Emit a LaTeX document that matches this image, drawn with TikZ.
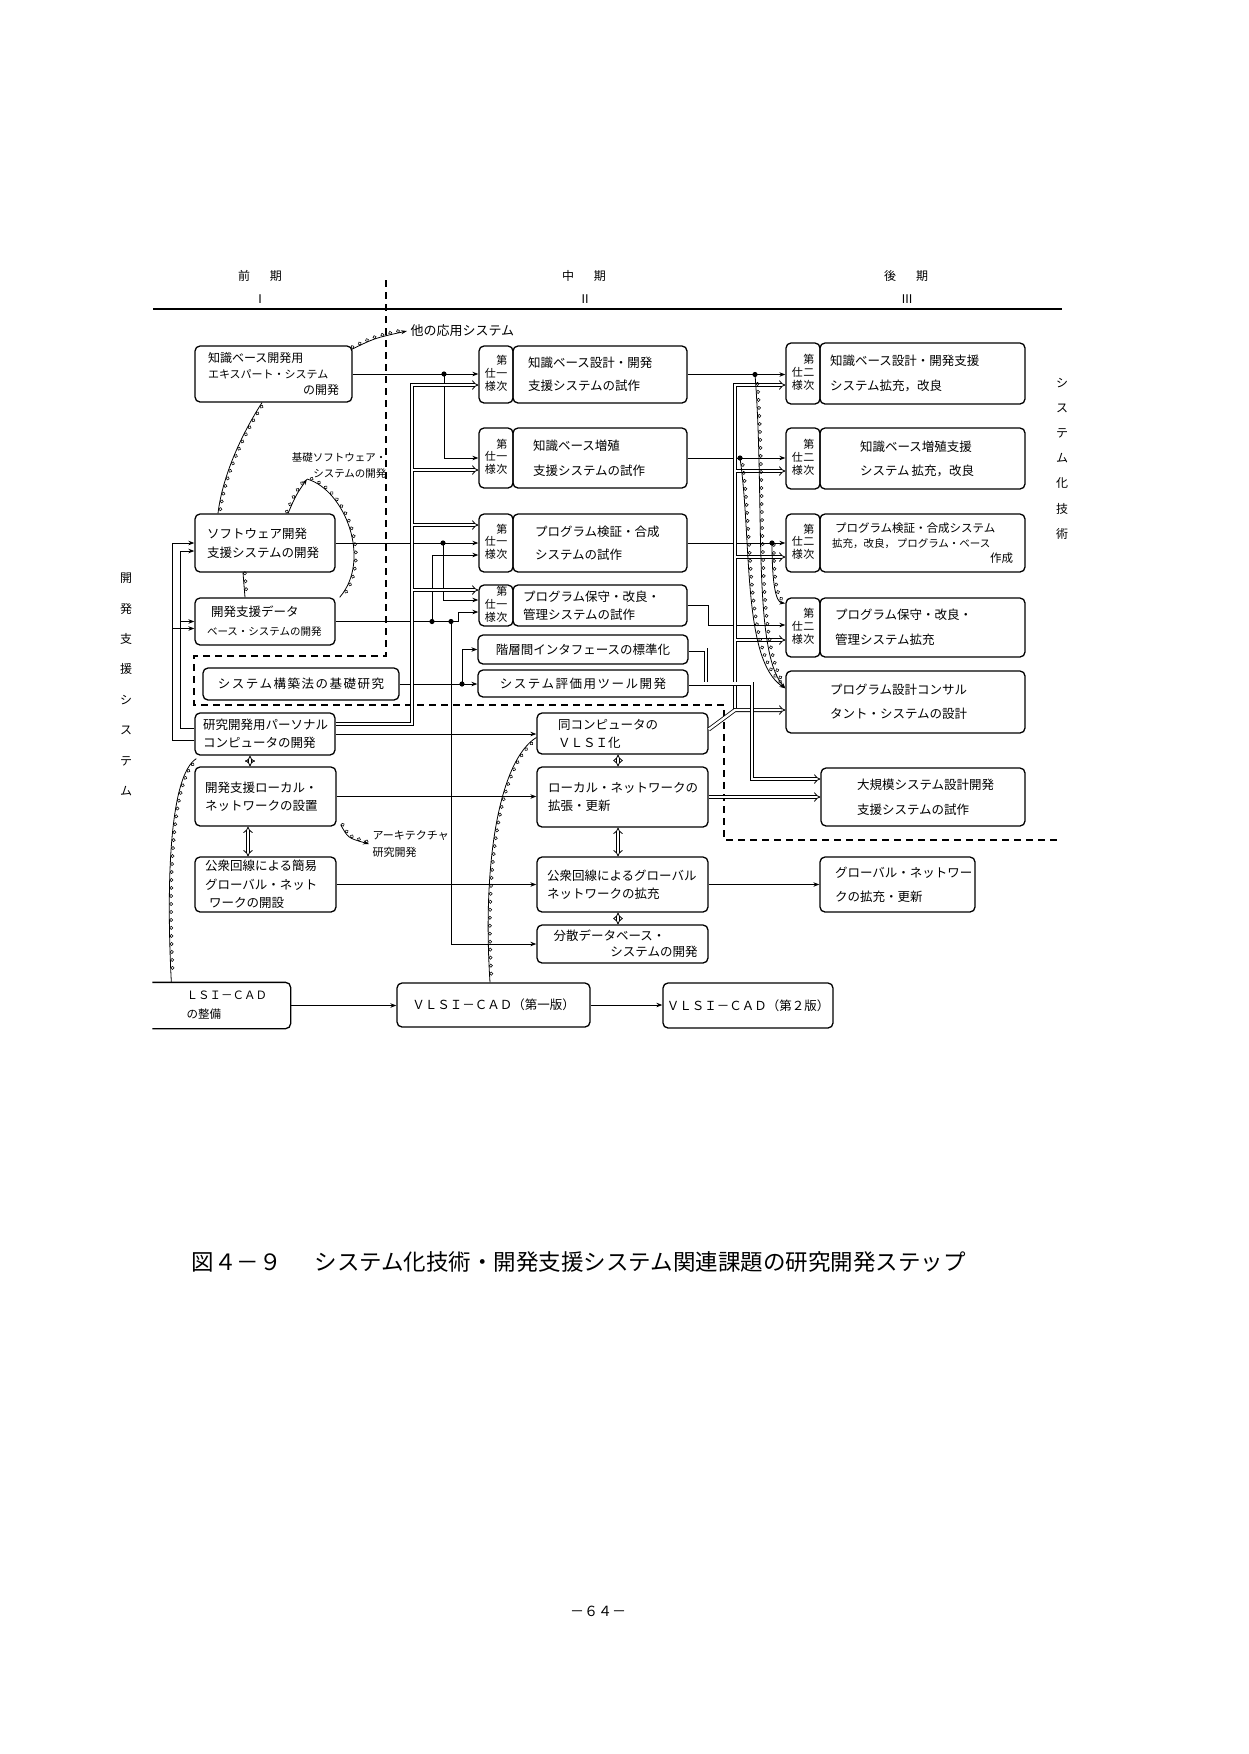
\documentclass[tikz,border=0pt]{standalone}
\usepackage{fontspec}
\setmainfont{Noto Sans CJK JP}
\usetikzlibrary{arrows.meta,decorations.markings}
\newcommand{\shiyou}[1]{\begin{tabular}{@{}c@{\hspace{0.5pt}}c@{}} & 第\\ 仕 & #1\\ 様 & 次\end{tabular}}
\newcommand{\pushr}[1]{\hbox to \hsize{\hfil #1}}
\newcommand{\wide}{\addfontfeature{LetterSpace=12}}
\begin{document}
\begin{tikzpicture}[x=1pt,y=-1pt]
\tikzset{bx/.style={draw, rounded corners=5pt, line width=1.3pt, inner sep=0pt, align=left, font=\fontsize{12.5}{18}\selectfont},
  ls/.style={font=\fontsize{12.5}{#1}\selectfont},
  tg/.style={draw, rounded corners=5pt, line width=1.3pt, inner sep=0pt, minimum width=34pt, font=\fontsize{11}{12}\selectfont},
  ar/.style={line width=1pt, -{Stealth[length=6pt,width=4.5pt]}},
  dbl/.style={double, double distance=2.4pt, line width=0.8pt},
  bound/.style={line width=1.2pt, dash pattern=on 7pt off 5pt},
  curly/.style={line width=0.8pt, decoration={markings, mark=between positions 0.03 and 0.97 step 8pt with {\draw[line width=0.55pt] (0pt,1.8pt) circle (1.6pt);}}, postaction={decorate}}}
\useasboundingbox (0,0) rectangle (1248,1754);
\node[font=\fontsize{12}{14}\selectfont] (P1) at (260,276) {前\hspace{20pt}期};
\node[font=\fontsize{12}{14}\selectfont] (P1n) at (260,299) {Ⅰ};
\node[font=\fontsize{12}{14}\selectfont] (P2) at (584,276) {中\hspace{20pt}期};
\node[font=\fontsize{12}{14}\selectfont] (P2n) at (585,299) {Ⅱ};
\node[font=\fontsize{12}{14}\selectfont] (P3) at (906,276) {後\hspace{20pt}期};
\node[font=\fontsize{12}{14}\selectfont] (P3n) at (907,299) {Ⅲ};
\draw[line width=1.6pt] (153,309) -- (1062,309);
\draw[bound] (386,280) -- (386,656) -- (194,656) -- (194,705) -- (724,705) -- (724,840) -- (1060,840);
\node[font=\fontsize{12}{30.4}\selectfont, align=center] (KS) at (126,684.5) {開\\発\\支\\援\\シ\\ス\\テ\\ム};
\node[font=\fontsize{12}{25.2}\selectfont, align=center] (SG) at (1062,458.5) {シ\\ス\\テ\\ム\\化\\技\\術};
\node[bx, font=\fontsize{12}{16}\selectfont, minimum width=157pt, minimum height=56pt, text width=131pt] (A1) at (273.5,374) {知識ベース開発用\\{\fontsize{11}{16}\selectfont エキスパート・システム}\\\pushr{の開発}};
\node[bx, ls=19, minimum width=140pt, minimum height=58pt, text width=116pt] (A2) at (265,543) {ソフトウェア開発\\支援システムの開発};
\node[bx, ls=19, minimum width=140pt, minimum height=47pt, text width=116pt] (A3) at (265,621.5) {\hspace*{4pt}開発支援データ\\{\fontsize{10.5}{19}\selectfont ベース・システムの開発}};
\node[bx, align=center, minimum width=196pt, minimum height=32pt] (A4) at (301,684) {\wide システム構築法の基礎研究};
\node[bx, ls=18, minimum width=140pt, minimum height=42pt, text width=124pt] (A5) at (265,734) {研究開発用パーソナル\\コンピュータの開発};
\node[bx, ls=18, minimum width=141pt, minimum height=59pt, text width=121pt] (A6) at (265.5,796.5) {開発支援ローカル・\\ネットワークの設置};
\node[bx, ls=18.5, minimum width=141pt, minimum height=55pt, text width=121pt] (A7) at (265.5,884.5) {公衆回線による簡易\\グローバル・ネット\\\hspace*{4pt}ワークの開設};
\node[bx, draw=none, font=\fontsize{11.5}{19}\selectfont, minimum width=137pt, minimum height=45pt, text width=100pt] (A8) at (221.5,1005.5) {\hspace*{15pt}ＬＳＩ－ＣＡＤ\\\hspace*{15pt}の整備};
\draw[line width=1.3pt, rounded corners=5pt] (A8.north west) -- (A8.north east) -- (A8.south east) -- (A8.south west);
\node[bx, ls=23, minimum width=174pt, minimum height=57pt, text width=144pt] (B1) at (600,374.5) {知識ベース設計・開発\\支援システムの試作};
\node[tg, minimum height=57pt] (B1t) at (496,374.5) {\shiyou{一}};
\node[bx, ls=25, minimum width=174pt, minimum height=60pt, text width=134pt] (B2) at (600,458) {知識ベース増殖\\支援システムの試作};
\node[tg, minimum height=60pt] (B2t) at (496,458) {\shiyou{一}};
\node[bx, ls=23, minimum width=174pt, minimum height=58pt, text width=130pt] (B3) at (600,543) {プログラム検証・合成\\システムの試作};
\node[tg, minimum height=58pt] (B3t) at (496,543) {\shiyou{一}};
\node[bx, ls=18, minimum width=174pt, minimum height=41pt, text width=154pt] (B4) at (600,605.5) {プログラム保守・改良・\\管理システムの試作};
\node[tg, minimum height=41pt] (B4t) at (496,605.5) {\shiyou{一}};
\node[bx, align=center, minimum width=210pt, minimum height=29pt] (B5) at (583,649.5) {階層間インタフェースの標準化};
\node[bx, align=center, minimum width=210pt, minimum height=27pt] (B6) at (583,683.5) {\wide システム評価用ツール開発};
\node[bx, ls=18, minimum width=171pt, minimum height=41pt, text width=129pt] (B7) at (622.5,733.5) {同コンピュータの\\ＶＬＳＩ化};
\node[bx, ls=18, minimum width=171pt, minimum height=60pt, text width=149pt] (B8) at (622.5,797) {ローカル・ネットワークの\\拡張・更新};
\node[bx, ls=18, minimum width=171pt, minimum height=55pt, text width=151pt] (B9) at (622.5,884.5) {公衆回線によるグローバル\\ネットワークの拡充};
\node[bx, ls=16, minimum width=171pt, minimum height=38pt, text width=150pt] (B10) at (622.5,944) {\hspace*{6pt}分散データベース・\\\pushr{システムの開発}};
\node[bx, align=center, minimum width=193pt, minimum height=44pt] (B11) at (493.5,1005) {ＶＬＳＩ－ＣＡＤ（第一版）};
\node[bx, align=center, minimum width=170pt, minimum height=45pt] (B12) at (748,1005.5) {ＶＬＳＩ－ＣＡＤ（第２版）};
\node[bx, ls=25, minimum width=205pt, minimum height=61pt, text width=185pt] (C1) at (922.5,373.5) {知識ベース設計・開発支援\\システム拡充，改良};
\node[tg, minimum height=61pt] (C1t) at (803,373.5) {\shiyou{二}};
\node[bx, ls=24, minimum width=205pt, minimum height=61pt, text width=125pt] (C2) at (922.5,458.5) {知識ベース増殖支援\\システム\,拡充，改良};
\node[tg, minimum height=61pt] (C2t) at (803,458.5) {\shiyou{二}};
\node[bx, font=\fontsize{11.5}{15}\selectfont, minimum width=205pt, minimum height=58pt, text width=181pt] (C3) at (922.5,543) {\hspace*{3pt}プログラム検証・合成システム\\{\fontsize{10.5}{15}\selectfont 拡充，改良，\,プログラム・ベース}\\\pushr{作成}};
\node[tg, minimum height=58pt] (C3t) at (803,543) {\shiyou{二}};
\node[bx, ls=25, minimum width=205pt, minimum height=59pt, text width=175pt] (C4) at (922.5,627.5) {プログラム保守・改良・\\管理システム拡充};
\node[tg, minimum height=59pt] (C4t) at (803,627.5) {\shiyou{二}};
\node[bx, ls=24, minimum width=239pt, minimum height=62pt, text width=151pt] (C5) at (905.5,702) {プログラム設計コンサル\\タント・システムの設計};
\node[bx, ls=25, minimum width=204pt, minimum height=58pt, text width=132pt] (C6) at (923,797) {大規模システム設計開発\\支援システムの試作};
\node[bx, ls=24, minimum width=155pt, minimum height=55pt, text width=125pt] (C7) at (897.5,884.5) {グローバル・ネットワー\\クの拡充・更新};
\node[font=\fontsize{13}{15}\selectfont, anchor=west] (oth) at (407,331) {他の応用システム};
\node[font=\fontsize{10.5}{16}\selectfont, align=right, anchor=east] (kiso) at (390,466) {基礎ソフトウェア・\\システムの開発};
\node[font=\fontsize{11}{17}\selectfont, align=left, anchor=west] (arch) at (369,844) {アーキテクチャ\\研究開発};
\coordinate (d1) at (444,374);
\coordinate (d2) at (443,543);
\coordinate (d3) at (432,621.5);
\coordinate (d4) at (451,621.5);
\coordinate (d5) at (462,684);
\coordinate (d6) at (755,374.5);
\coordinate (d7) at (740,458);
\coordinate (d8) at (772,543);
\coordinate (f1) at (180,621.5);
\coordinate (f2) at (172,628.5);
\coordinate (q1) at (413.4,470);
\coordinate (q2) at (413.4,525);
\coordinate (q3) at (413.4,590);
\coordinate (r0) at (735,710);
\coordinate (r1) at (736.4,471);
\coordinate (r2) at (736.4,557);
\coordinate (r3) at (736.4,640);
\coordinate (ktip) at (307,479);
\draw[ar] (A1.east) -- (A1.east -| B1t.west);
\draw[ar] (d1) |- (B2t.west);
\draw[ar] (A2.east) -- (A2.east -| B3t.west);
\draw[ar] (d2) |- ([yshift=5.5pt]B4t.west);
\draw[ar] (A3.east) -- (458,621.5) |- ([yshift=-6.5pt]B4t.west);
\draw[ar] (d3) |- ([yshift=-12pt]B3t.west);
\draw[ar] (d4) |- (B10.west);
\draw[ar] (A4.east) -- (A4.east -| B6.west);
\draw[ar] (d5) |- (B5.west);
\draw[ar] (A5.east) -- (A5.east -| B7.west);
\draw[ar] (A6.east) -- (A6.east -| B8.west);
\draw[ar] (A7.east) -- (A7.east -| B9.west);
\draw[ar] (A8.east) -- (A8.east -| B11.west);
\draw[ar] (B11.east) -- (B11.east -| B12.west);
\draw[ar] (B9.east) -- (B9.east -| C7.west);
\draw[ar] (B1.east) -- (B1.east -| C1t.west);
\draw[ar] (B2.east) -- (B2.east -| C2t.west);
\draw[ar] (B3.east) -- (B3.east -| C3t.west);
\draw[ar] (B4.east) -- (708,605.5) |- ([yshift=2.5pt]C4t.west);
\draw[ar] ([yshift=-6pt]A5.west) -| (172,543) -- (A2.west);
\draw[ar] ([yshift=6pt]A5.west) -| (180,551) -- ([yshift=-8pt]A2.west);
\draw[ar] (f1) -- (A3.west);
\draw[ar] (f2) -- ([yshift=-7pt]A3.west);
\draw[dbl,-{Implies}] ([yshift=10pt]A5.east) -- (412,724) |- ([yshift=-10.5pt]B1t.west);
\draw[dbl,-{Implies}] (q1) -- ([yshift=-12pt]B2t.west);
\draw[dbl,-{Implies}] (q2) -- ([yshift=18pt]B3t.west);
\draw[dbl,-{Implies}] (q3) -- ([yshift=15.5pt]B4t.west);
\draw[dbl,-{Implies}] (r0) |- ([yshift=-11.5pt]C1t.west);
\draw[dbl,-{Implies}] ([yshift=4pt]B7.east) -- (r0) -- ([yshift=-8pt]C5.west);
\draw[dbl,-{Implies}] (r1) -- ([yshift=-12.5pt]C2t.west);
\draw[dbl,-{Implies}] (r2) -- ([yshift=-14pt]C3t.west);
\draw[dbl,-{Implies}] (r3) -- ([yshift=-12.5pt]C4t.west);
\draw[dbl] (B5.east) -- (706,649.5) -- (706,683.5);
\draw[dbl,-{Implies}] (B6.east) -- (752,683.5) |- ([yshift=18pt]C6.west);
\draw[dbl,-{Implies}] (B8.east) -- (B8.east -| C6.west);
\draw[dbl,{Implies}-{Implies}] ([xshift=-15pt]A5.south) -- ([xshift=-15.5pt]A6.north);
\draw[dbl,{Implies}-{Implies}] ([xshift=-17.5pt]A6.south) -- ([xshift=-17.5pt]A7.north);
\draw[dbl,{Implies}-{Implies}] ([xshift=-4.5pt]B7.south) -- ([xshift=-4.5pt]B8.north);
\draw[dbl,{Implies}-{Implies}] ([xshift=-4.5pt]B8.south) -- ([xshift=-4.5pt]B9.north);
\draw[dbl,{Implies}-{Implies}] ([xshift=-4.5pt]B9.south) -- ([xshift=-4.5pt]B10.north);
\fill (d1) circle (2.6pt) (d2) circle (2.6pt) (d3) circle (2.6pt) (d4) circle (2.6pt) (d5) circle (2.6pt) (d6) circle (2.6pt) (d7) circle (2.6pt) (d8) circle (2.6pt);
\draw[curly,-{Stealth[length=6pt,width=4pt]}] ([xshift=-1pt,yshift=-4pt]A1.north east) .. controls (375,338) .. (oth.west);
\draw[curly] ([xshift=-11.5pt]A1.south) .. controls (238,440) and (222,480) .. ([xshift=-47pt]A2.north);
\draw[curly,-{Stealth[length=6pt,width=4pt]}] ([xshift=23pt]A2.north) .. controls (296,495) .. (ktip);
\draw[curly] (ktip) .. controls (345,490) and (372,560) .. ([xshift=4pt]A3.north east);
\draw[curly] ([xshift=-22pt]A2.south) -- ([xshift=-20pt]A3.north);
\draw[curly,-{Stealth[length=6pt,width=4pt]}] ([xshift=4pt,yshift=2pt]A6.south east) .. controls (348,838) .. (arch.west);
\draw[curly] ([xshift=2pt,yshift=-3pt]A5.south west) .. controls (170,775) and (166,880) .. ([xshift=19pt]A8.north west);
\draw[curly] ([yshift=-4pt]B7.west) .. controls (500,760) and (482,860) .. ([xshift=-3.5pt]B11.north);
\draw[curly,-{Stealth[length=6pt,width=4pt]}] (d6) .. controls (765,500) and (752,650) .. ([yshift=-18pt]C5.north west);
\draw[curly,-{Stealth[length=6pt,width=4pt]}] (d7) .. controls (752,540) and (742,660) .. ([yshift=-18pt]C5.north west);
\draw[curly,-{Stealth[length=6pt,width=4pt]}] (d8) .. controls (772,585) and (776,602) .. ([yshift=-6pt]C4t.north west);
\node[font=\fontsize{22.5}{24}\selectfont, anchor=west] (cap) at (188,1262) {図４－９\hspace{33pt}システム化技術・開発支援システム関連課題の研究開発ステップ};
\node[font=\fontsize{14}{16}\selectfont] (pg) at (598,1611) {－６４－};
\end{tikzpicture}
\end{document}
